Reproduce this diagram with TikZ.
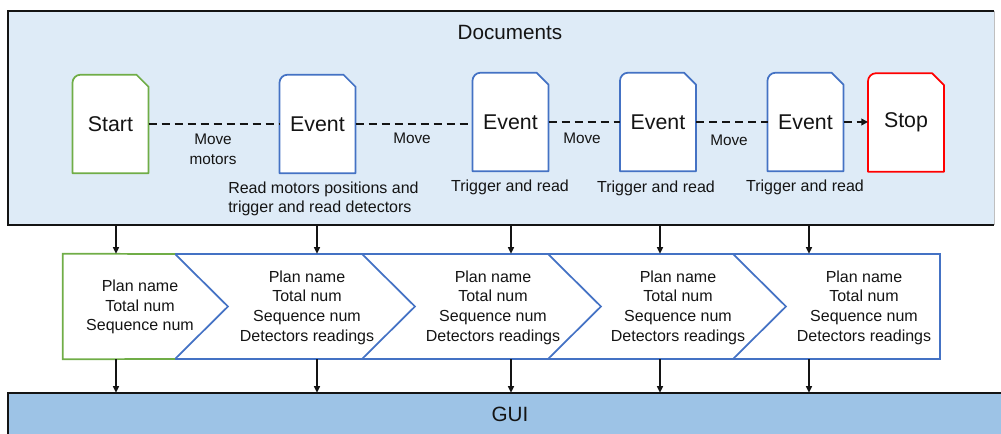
\documentclass[tikz,border=0pt]{standalone}
\usepackage{fontspec}
\setmainfont{Liberation Sans}
\usetikzlibrary{arrows.meta}
\definecolor{docfill}{RGB}{222,235,247}
\definecolor{guifill}{RGB}{157,195,230}
\definecolor{evblue}{RGB}{68,114,196}
\definecolor{stgreen}{RGB}{112,173,71}
\definecolor{spred}{RGB}{255,0,0}
\definecolor{ink}{RGB}{20,20,20}
\pgfdeclarelayer{boxes}
\pgfdeclarelayer{shapes}
\pgfsetlayers{boxes,shapes,main}

% outline of a document sheet: rounded top-left, clipped top-right corner
\newcommand\docsheet[2]{%
  \draw[docline,draw=#2] (#1.south west) -- ([yshift=-6pt]#1.north west)
    arc[start angle=180,end angle=90,radius=6pt]
    -- ([xshift=-9pt]#1.north east) -- ([yshift=-9pt]#1.north east)
    -- (#1.south east) -- cycle;}

\begin{document}
\begin{tikzpicture}[x=0.75pt,y=-0.75pt,
  docnode/.style={minimum width=56.6pt,minimum height=73.5pt,inner sep=0pt,
    font=\fontsize{16}{19}\selectfont,text=ink},
  note/.style={font=\fontsize{12}{14.4}\selectfont,text=ink,inner sep=0pt,align=center},
  movenote/.style={font=\fontsize{11.5}{15}\selectfont,text=ink,inner sep=0pt,align=center},
  chevtext/.style={font=\fontsize{12}{14.7}\selectfont,text=ink,inner sep=0pt,align=center},
  title/.style={font=\fontsize{15.5}{18}\selectfont,text=ink,inner sep=0pt},
  docline/.style={line width=1.3pt,fill=white,line join=round},
  flow/.style={dash pattern=on 6pt off 3.75pt,line width=1.3pt,draw=ink},
  drop/.style={-{Triangle[length=5pt,width=4.5pt]},line width=1.1pt,draw=ink},
  chevline/.style={line width=1.3pt,line join=miter}]

\useasboundingbox (0,0) rectangle (1001,434);

% ---------- background panels ----------
\begin{pgfonlayer}{boxes}
  \node[fill=docfill,minimum width=739.5pt,minimum height=160.5pt,inner sep=0pt]
    (docs) at (501,118) {};
  \node[fill=guifill,minimum width=753pt,minimum height=42.75pt,inner sep=0pt]
    (gui) at (510,421.5) {};
\end{pgfonlayer}
\draw[line width=1.5pt,ink] (docs.north east) -- (docs.north west)
  -- (docs.south west) -- (docs.south east);
\draw[line width=0.5pt,black!25] (docs.north east) -- (docs.south east);
\draw[line width=1.5pt,ink] (gui.south west) -- (gui.north west) -- (gui.north east);

\node[title] (doctitle) at (510,32) {Documents};
\node[title] (guititle) at (510,414) {GUI};

% ---------- document sheets ----------
\node[docnode] (start) at (110.5,124) {Start};
\node[docnode] (e1) at (317.5,124) {Event};
\node[docnode] (e2) at (510.5,122) {Event};
\node[docnode] (e3) at (658,122) {Event};
\node[docnode] (e4) at (805.5,122) {Event};
\node[docnode] (stop) at (906,122.5) {Stop};

\begin{pgfonlayer}{shapes}
  \docsheet{start}{stgreen}
  \docsheet{e1}{evblue}
  \docsheet{e2}{evblue}
  \docsheet{e3}{evblue}
  \docsheet{e4}{evblue}
  \docsheet{stop}{spred}
\end{pgfonlayer}

% ---------- dashed sequence ----------
\draw[flow] (start.east) -- (start.east -| e1.west);
\draw[flow] (e1.east) -- (e1.east -| e2.west);
\draw[flow] (e2.east) -- (e2.east -| e3.west);
\draw[flow] (e3.east) -- (e3.east -| e4.west);
\draw[flow,-{Triangle[length=5pt,width=5pt]}] (e4.east) -- (e4.east -| stop.west);

\node[movenote] (mv1) at (213,149) {Move\\motors};
\node[movenote] (mv2) at (412,138) {Move};
\node[movenote] (mv3) at (582,138) {Move};
\node[movenote] (mv4) at (729,140) {Move};

\node[note,align=left,anchor=west] (rd1) at (228,198.5)
  {Read motors positions and\\trigger and read detectors};
\node[note] (rd2) at (510,187) {Trigger and read};
\node[note] (rd3) at (656,188) {Trigger and read};
\node[note] (rd4) at (805,187) {Trigger and read};

% ---------- record chevrons ----------
\node[minimum width=657.75pt,minimum height=78.75pt,inner sep=0pt]
  (chev) at (501.5,306.5) {};

\draw[evblue,chevline] (175,254) -- (940,254) -- (940,359) -- (175,359);
\foreach \xr in {175,362,548,733}
  \draw[evblue,chevline] (\xr,254) -- (\xr+53,306.5) -- (\xr,359);
\draw[stgreen,chevline] (175,254) -- (chev.north west) -- (chev.south west) -- (175,359);

\node[chevtext] (c1) at (140,307) {Plan name\\Total num\\Sequence num};
\node[chevtext] (c2) at (307,307.5) {Plan name\\Total num\\Sequence num\\Detectors readings};
\node[chevtext] (c3) at (493,307.5) {Plan name\\Total num\\Sequence num\\Detectors readings};
\node[chevtext] (c4) at (678,307.5) {Plan name\\Total num\\Sequence num\\Detectors readings};
\node[chevtext] (c5) at (864,307.5) {Plan name\\Total num\\Sequence num\\Detectors readings};

% ---------- vertical data flow ----------
\foreach \n/\x in {1/116,2/317,3/511,4/660,5/809}
  \coordinate (col\n) at (\x,0);
\foreach \n in {1,...,5}{
  \draw[drop] (col\n |- docs.south) -- (col\n |- chev.north);
  \draw[drop] (col\n |- chev.south) -- (col\n |- gui.north);
}
\end{tikzpicture}
\end{document}
